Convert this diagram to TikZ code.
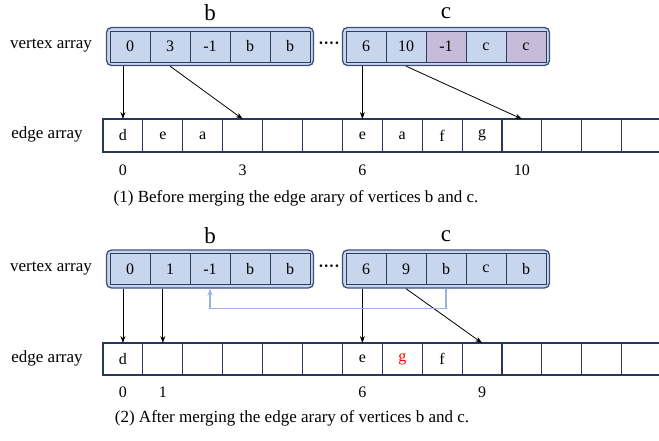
\documentclass[tikz,border=0pt]{standalone}
\usepackage{fontspec}
\setmainfont{Liberation Serif}
\usepackage{xcolor}
\usetikzlibrary{arrows.meta,positioning,fit,backgrounds}
\definecolor{cellblue}{RGB}{199,213,237}
\definecolor{cellpurple}{RGB}{198,187,216}
\definecolor{cellborder}{RGB}{45,60,95}
\definecolor{grpborder}{RGB}{60,80,125}
\definecolor{edgeborder}{RGB}{40,55,90}
\definecolor{linkblue}{RGB}{150,180,230}

\begin{document}
\begin{tikzpicture}[
    x=1pt, y=-1pt,
    vcell/.style={rectangle, draw=cellborder, line width=0.9pt, minimum width=40pt, minimum height=31pt, inner sep=0pt, outer sep=0pt, font=\fontsize{16}{18}\selectfont},
    ecell/.style={rectangle, draw=edgeborder, line width=1.1pt, minimum width=39.9pt, minimum height=33pt, inner sep=0pt, outer sep=0pt, font=\fontsize{16}{18}\selectfont},
    group/.style={rectangle, rounded corners=5pt, draw=grpborder, fill=cellblue, line width=1.3pt, inner sep=3.5pt},
    lbl/.style={font=\fontsize{17}{20}\selectfont},
    idx/.style={font=\fontsize{16}{18}\selectfont},
    ttl/.style={font=\fontsize{23}{26}\selectfont},
    arrow/.style={-{Stealth[length=7pt,width=5pt]}, line width=0.8pt},
    link/.style={-{Stealth[length=7pt,width=5pt]}, line width=1.6pt, draw=linkblue}
]
\clip (0,0) rectangle (659,441);

% (1) before merging
\node[lbl] (tva) at (51,46) {vertex array};
\foreach \t [count=\i from 0] in {0,3,-1,b,b}
  \node[vcell, fill=cellblue] (tb\i) at (130+40*\i,46.5) {\t};
\foreach \t/\f [count=\i from 0] in {6/cellblue,10/cellblue,-1/cellpurple,c/cellblue,c/cellpurple}
  \node[vcell, fill=\f] (tc\i) at (366+40*\i,46.5) {\t};
\begin{scope}[on background layer]
  \node[group, fit=(tb0)(tb4)] (tbg) {};
  \node[group, fit=(tc0)(tc4)] (tcg) {};
\end{scope}
\node[ttl] (tbt) at (210,13) {b};
\node[ttl] (tct) at (446,13) {c};
\node[font=\bfseries\fontsize{16}{18}\selectfont] (tdots) at (329,45) {····};

\node[lbl] (tea) at (47,134) {edge array};
\foreach \t [count=\i from 0] in {d,e,a,{},{},{},e,a,f,g,{},{},{},{}}
  \node[ecell] (te\i) at (122.95+39.9*\i,135.5) {\t};
\node[idx] (ti0) at (te0 |- 0,170) {0};
\node[idx] (ti3) at (te3 |- 0,170) {3};
\node[idx] (ti6) at (te6 |- 0,170) {6};
\node[idx] (ti10) at (te10 |- 0,170) {10};
\node[lbl] (tcap) at (296,198) {(1) Before merging the edge arary of vertices b and c.};

\draw[arrow] (te0 |- tbg.south) -- (te0.north);
\draw[arrow] (tb1 |- tbg.south) -- (te3.north);
\draw[arrow] (te6 |- tcg.south) -- (te6.north);
\draw[arrow] (tc1 |- tcg.south) -- (te10.north);

% (2) after merging
\node[lbl] (bva) at (51,269) {vertex array};
\foreach \t [count=\i from 0] in {0,1,-1,b,b}
  \node[vcell, fill=cellblue] (bb\i) at (130+40*\i,269) {\t};
\foreach \t [count=\i from 0] in {6,9,b,c,b}
  \node[vcell, fill=cellblue] (bc\i) at (366+40*\i,269) {\t};
\begin{scope}[on background layer]
  \node[group, fit=(bb0)(bb4)] (bbg) {};
  \node[group, fit=(bc0)(bc4)] (bcg) {};
\end{scope}
\node[ttl] (bbt) at (210,236) {b};
\node[ttl] (bct) at (446,236) {c};
\node[font=\bfseries\fontsize{16}{18}\selectfont] (bdots) at (329,268) {····};

\node[lbl] (bea) at (47,358) {edge array};
\foreach \t [count=\i from 0] in {d,{},{},{},{},{},e,{\textcolor{red}{g}},f,{},{},{},{},{}}
  \node[ecell, minimum height=32pt] (be\i) at (122.95+39.9*\i,359) {\t};
\node[idx] (bi0) at (be0 |- 0,392) {0};
\node[idx] (bi1) at (be1 |- 0,392) {1};
\node[idx] (bi6) at (be6 |- 0,392) {6};
\node[idx] (bi9) at (be9 |- 0,392) {9};
\node[lbl] (bcap) at (292,418) {(2) After merging the edge arary of vertices b and c.};

\draw[arrow] (be0 |- bbg.south) -- (be0.north);
\draw[arrow] (be1 |- bbg.south) -- (be1.north);
\draw[arrow] (be6 |- bcg.south) -- (be6.north);
\draw[arrow] (bc1 |- bcg.south) -- (be9.north);
\draw[link] (bc2 |- bcg.south) -- ++(0,20) -| (bb2 |- bbg.south);
\end{tikzpicture}
\end{document}
